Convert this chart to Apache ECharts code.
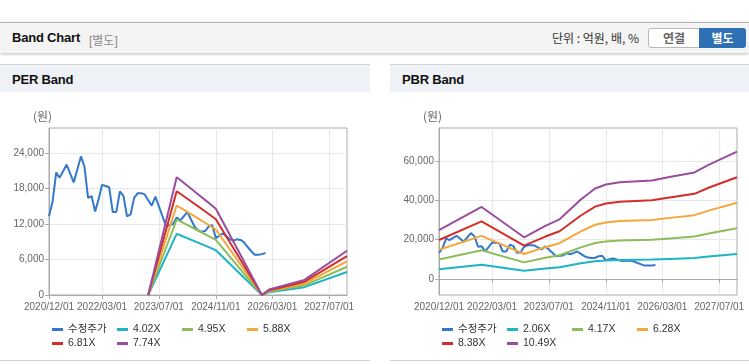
<!DOCTYPE html>
<html><head><meta charset="utf-8">
<script src="https://cdn.jsdelivr.net/npm/echarts@6/dist/echarts.min.js"></script>
<style>
body{margin:0;width:749px;height:364px;overflow:hidden;background:#fff;position:relative;font-family:'Liberation Sans','Noto Sans CJK KR',sans-serif}
.topbar{position:absolute;left:0;top:22px;width:749px;height:30px;background:#f4f4f4;border-top:1px solid #b4b4b4;box-shadow:0 1px 3px rgba(0,0,0,0.28)}
.ttl{position:absolute;left:12px;top:7px;font-weight:bold;font-size:13px;color:#111;letter-spacing:-0.2px}
.sub{position:absolute;left:89px;top:8px;font-size:12px;color:#8a8a8a}
.unit{position:absolute;left:552px;top:8px;font-size:12px;color:#333;font-family:'Noto Sans CJK KR','Liberation Sans',sans-serif;line-height:14px}
.b1{position:absolute;left:648px;top:5px;width:50px;height:18px;background:#fff;border:1px solid #b8b8b8;border-radius:3px 0 0 3px;font-size:12px;font-weight:bold;color:#666;text-align:center;line-height:18px;font-family:'Noto Sans CJK KR',sans-serif}
.b2{position:absolute;left:699px;top:5px;width:47px;height:20px;background:#2f6fb3;border-radius:0 3px 3px 0;font-size:12px;font-weight:bold;color:#fff;text-align:center;line-height:20px;font-family:'Noto Sans CJK KR',sans-serif}
.panel{position:absolute;top:64px;height:295px;border-top:1px solid #d3d3d3;border-bottom:1px solid #d3d3d3;background:#fff}
.ph{position:absolute;left:0;top:0;right:0;height:27px;background:#eef1f6}
.ph span{position:absolute;left:12px;top:7px;font-weight:bold;font-size:13px;color:#111;letter-spacing:-0.2px}
.chart{position:absolute;top:28px;left:0;width:100%;height:266px}
</style></head>
<body>
<div class="topbar"><span class="ttl">Band Chart</span><span class="sub">[별도]</span><span class="unit">단위 : 억원, 배, %</span><div class="b1">연결</div><div class="b2">별도</div></div>
<div class="panel" style="left:0;width:370px"><div class="ph"><span>PER Band</span></div><div class="chart" id="per"></div></div>
<div class="panel" style="left:390px;width:359px"><div class="ph"><span>PBR Band</span></div><div class="chart" id="pbr"></div></div>
<script>
// ---- data ----
const xTickLabels = ['2020/12/01','2022/03/01','2023/07/01','2024/11/01','2026/03/01','2027/07/01'];
const xStart = '2020/12/01', xEnd = '2027/12/01';

const priceDates = ['2020/12','2021/01','2021/02','2021/03','2021/04','2021/05','2021/06','2021/07','2021/08','2021/09','2021/10','2021/11',
 '2021/12','2022/01','2022/02','2022/03','2022/04','2022/05','2022/06','2022/07','2022/08','2022/09','2022/10','2022/11',
 '2022/12','2023/01','2023/02','2023/03','2023/04','2023/05','2023/06','2023/07','2023/08','2023/09','2023/10','2023/11',
 '2023/12','2024/01','2024/02','2024/03','2024/04','2024/05','2024/06','2024/07','2024/08','2024/09','2024/10','2024/11',
 '2024/12','2025/01','2025/02','2025/03','2025/04','2025/05','2025/06','2025/07','2025/08','2025/09','2025/10','2025/11',
 '2025/12','2026/01'];
const priceValues = [13300,15800,20700,19800,20900,22000,20500,19000,21200,23400,21700,16400,
 16700,14100,16300,18600,18400,18200,14000,14000,17500,16700,13300,13600,
 16400,17200,17200,17000,16000,15100,16600,15000,13300,11600,11800,12000,
 13100,12600,13300,14000,12800,11600,10900,10700,10800,11600,11800,9600,
 10000,10400,9900,9400,9200,9400,9300,8900,8100,7400,6800,6800,
 6900,7100];

const perNames = ['수정주가','4.02X','4.95X','5.88X','6.81X','7.74X'];
const perDates = ['2023/04','2023/12','2024/01','2024/06','2024/09','2024/11','2025/12','2026/02','2026/06','2026/12','2027/12'];
const per402 = [0,10331,10090,8844,8080,7558,0,482,804,1327,3879];
const per495 = [0,12722,12425,10890,9950,9306,0,594,990,1634,4777];
const per588 = [0,15112,14759,12936,11819,11054,0,706,1176,1940,5674];
const per681 = [0,17502,17093,14982,13688,12803,0,817,1362,2247,6572];
const per774 = [0,19892,19427,17028,15557,14551,0,929,1548,2554,7469];

const pbrNames = ['수정주가','2.06X','4.17X','6.28X','8.38X','10.49X'];
const pbrDates = ['2020/12','2021/12','2022/12','2023/06','2023/10','2024/04','2024/08','2024/11','2025/03','2025/12','2026/05','2026/12','2027/04','2027/12'];
const pbr206 = [4882,7210,4172,5315,5974,7952,9064,9455,9682,9867,10218,10671,11433,12751];
const pbr417 = [9883,14595,8444,10759,12093,16096,18348,19140,19599,19974,20683,21601,23144,25812];
const pbr628 = [14884,21980,12717,16202,18212,24241,27632,28825,29516,30081,31149,32530,34854,38873];
const pbr838 = [19861,29330,16970,21620,24302,32347,36872,38464,39386,40140,41565,43408,46509,51872];
const pbr1049 = [24861,36715,21242,27064,30421,40491,46156,48149,49303,50247,52030,54338,58220,64933];

const perTicks = [0,6000,12000,18000,24000];
const pbrTicks = [0,20000,40000,60000];

const colors = ['#3278cc','#1fb3c6','#8cbd5a','#f3a73b','#d42d2a','#9a4d9e'];

// ---- helpers ----
function toTime(s){const p=s.split('/').map(Number);return new Date(p[0],p[1]-1,p[2]||1).getTime();}
function pad(n){return (n<10?'0':'')+n;}
function fmtDate(v){const d=new Date(v);return d.getFullYear()+'/'+pad(d.getMonth()+1)+'/'+pad(d.getDate());}
function pairs(dates,vals){return dates.map((d,i)=>[toTime(d),vals[i]]);}
const tickTimes = xTickLabels.map(toTime);
const axisFont = "'Liberation Sans', Arial, sans-serif";

function makeOption(names, bandDates, bands, yMin, yMax, yTicks){
  const series = [{name:names[0], type:'line', data:pairs(priceDates,priceValues), showSymbol:false, symbol:'none',
      lineStyle:{width:2,color:colors[0]}, itemStyle:{color:colors[0]}, animation:false}];
  bands.forEach((b,i)=>series.push({name:names[i+1], type:'line', data:pairs(bandDates,b), showSymbol:false, symbol:'none',
      lineStyle:{width:2,color:colors[i+1]}, itemStyle:{color:colors[i+1]}, animation:false}));
  return {
    animation:false,
    title:{text:'(원)', left:33, top:17, padding:0, textStyle:{fontSize:12, fontWeight:'normal', color:'#666', fontFamily:"'Noto Sans CJK KR', sans-serif"}},
    grid:{left:49, top:35, width:298, height:167, show:true, borderColor:'#aaa', borderWidth:1, containLabel:false},
    legend:{left:52, top:230, width:262, padding:0, itemGap:1, itemWidth:11, itemHeight:3, icon:'rect',
      data:names.map((n,i)=>({name:n, itemStyle:{color:colors[i]}})),
      textStyle:{fontSize:10.5, color:'#333', width:48, lineHeight:13, fontFamily:"'Liberation Sans','Noto Sans CJK KR',sans-serif"}},
    xAxis:{type:'value', min:toTime(xStart), max:toTime(xEnd),
      axisLine:{show:true, lineStyle:{color:'#aaa'}},
      axisTick:{show:true, length:4, lineStyle:{color:'#aaa'}, customValues:tickTimes},
      axisLabel:{customValues:tickTimes, formatter:fmtDate, color:'#666', fontSize:10, margin:7, fontFamily:axisFont, hideOverlap:false},
      splitLine:{show:true, lineStyle:{color:'#e8e8e8'}}},
    yAxis:{type:'value', min:yMin, max:yMax,
      axisLine:{show:true, lineStyle:{color:'#aaa'}},
      axisTick:{show:true, length:4, lineStyle:{color:'#aaa'}, customValues:yTicks},
      axisLabel:{customValues:yTicks, formatter:v=>v.toLocaleString('en-US'), color:'#666', fontSize:10, margin:5, fontFamily:axisFont},
      splitLine:{show:true, lineStyle:{color:'#e8e8e8'}}},
    series:series
  };
}

const perChart = echarts.init(document.getElementById('per'), null, {renderer:'canvas'});
perChart.setOption(makeOption(perNames, perDates, [per402,per495,per588,per681,per774], 0, 28200, perTicks));
const pbrChart = echarts.init(document.getElementById('pbr'), null, {renderer:'canvas'});
pbrChart.setOption(makeOption(pbrNames, pbrDates, [pbr206,pbr417,pbr628,pbr838,pbr1049], -8200, 77000, pbrTicks));
</script>
</body></html>
